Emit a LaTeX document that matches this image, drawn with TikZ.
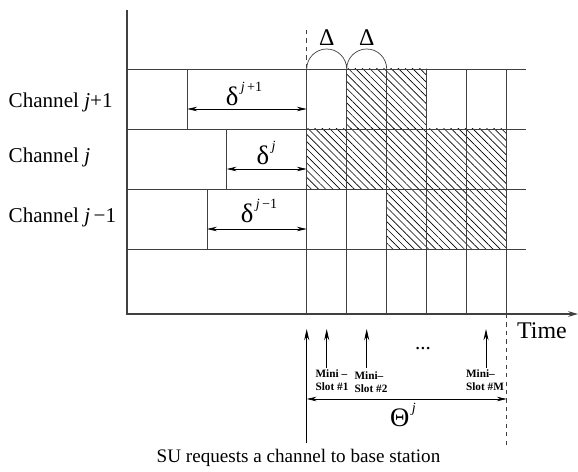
\documentclass[tikz,border=0pt]{standalone}
\usepackage{fontspec}
\setmainfont{Liberation Serif}
\usetikzlibrary{arrows.meta,patterns.meta,positioning,calc}
\tikzset{
  grid/.style={line width=0.5pt,black!75},
  axis/.style={line width=0.9pt,black!75},
  hatch/.style={pattern={Lines[angle=-45,distance=3.6pt,line width=0.45pt]}},
  darr/.style={{Stealth[length=7pt,width=3.2pt]}-{Stealth[length=7pt,width=3.2pt]},line width=0.5pt},
  uarr/.style={-{Stealth[length=8pt,width=3.6pt]},line width=0.6pt},
  lbl/.style={font=\fontsize{15}{18}\selectfont,inner sep=1pt},
  greek/.style={font=\fontsize{19}{22}\selectfont,inner sep=1pt},
  slotlbl/.style={font=\fontsize{8}{8.8}\selectfont\bfseries,align=left,inner sep=0pt},
}
\newcommand{\supj}[1]{\raisebox{1.1ex}{\fontsize{10}{12}\selectfont\,#1}}

\begin{document}
\begin{tikzpicture}[x=0.025cm,y=-0.025cm]
  \useasboundingbox (0,0) rectangle (578,472);

  % busy mini-slots
  \fill[hatch] (346.7,69) rectangle (426.7,129);
  \fill[hatch] (306.7,129) rectangle (506.7,189);
  \fill[hatch] (386.7,189) rectangle (506.7,249);

  % channel rows and mini-slot grid
  \foreach \y in {69,129,189,249}
    \draw[grid] (127,\y) -- (526,\y);
  \foreach \i in {0,...,5}
    \draw[grid] ({306.7+40*\i},69) -- ({306.7+40*\i},314);
  \draw[grid] (187.3,69) -- (187.3,129);
  \draw[grid] (226.7,129) -- (226.7,189);
  \draw[grid] (207,189) -- (207,249);

  % axes
  \draw[axis,-{Stealth[length=7pt,width=4pt]}] (127,10) -- (127,314) -- (578,314);
  \draw[grid,dashed] (306.7,30) -- (306.7,69);
  \draw[grid,dashed] (506.7,314) -- (506.7,448);
  \node[lbl,font=\fontsize{17}{20}\selectfont] (time) at (542,331) {Time};

  % Delta arcs
  \draw[grid] (306.7,69) arc[start angle=180,end angle=360,radius=20]
                         arc[start angle=180,end angle=360,radius=20];
  \node[lbl,font=\fontsize{17}{20}\selectfont] (D1) at (326.7,38) {Δ};
  \node[lbl,font=\fontsize{17}{20}\selectfont] (D2) at (366.7,38) {Δ};

  % channel labels
  \node[lbl,anchor=west] (chA) at (7,102) {Channel \textit{j}+1};
  \node[lbl,anchor=west] (chB) at (7,157) {Channel \textit{j}};
  \node[lbl,anchor=west] (chC) at (7,217) {Channel \textit{j}\,−1};

  % offsets delta
  \coordinate (s1) at (187.3,109);  \coordinate (e1) at (306.7,109);
  \coordinate (s2) at (226.7,169);  \coordinate (e2) at (306.7,169);
  \coordinate (s3) at (207,229);    \coordinate (e3) at (306.7,229);
  \draw[darr] (s1) -- (e1);
  \draw[darr] (s2) -- (e2);
  \draw[darr] (s3) -- (e3);
  \node[greek] (dA) at (244,94) {δ\supj{\textit{j}\,+1}};
  \node[greek] (dB) at (266,153) {δ\supj{\textit{j}}};
  \node[greek] (dC) at (259,211) {δ\supj{\textit{j}\,−1}};

  % request and mini-slot arrows
  \coordinate (req0) at (306.7,443); \coordinate (req1) at (306.7,329);
  \draw[uarr] (req0) -- (req1);
  \foreach \x/\n in {326.7/a,366.7/b,486/c}{
    \coordinate (m\n0) at (\x,368);
    \coordinate (m\n1) at (\x,329);
    \draw[uarr] (m\n0) -- (m\n1);
  }
  \node[slotlbl] (ms1) at (332,380) {Mini –\\Slot \#1};
  \node[slotlbl] (ms2) at (371,382) {Mini–\\Slot \#2};
  \node[slotlbl] (msM) at (485,380) {Mini–\\Slot \#M};
  \node[lbl] (dots) at (423,349) {...};

  % window Theta
  \coordinate (th0) at (306.7,399); \coordinate (th1) at (506.7,399);
  \draw[darr] (th0) -- (th1);
  \node[greek] (theta) at (403,415) {Θ\supj{\textit{j}}};

  \node[lbl,font=\fontsize{13.6}{16}\selectfont] (req) at (298.5,458) {SU requests a channel to base station};
\end{tikzpicture}
\end{document}
